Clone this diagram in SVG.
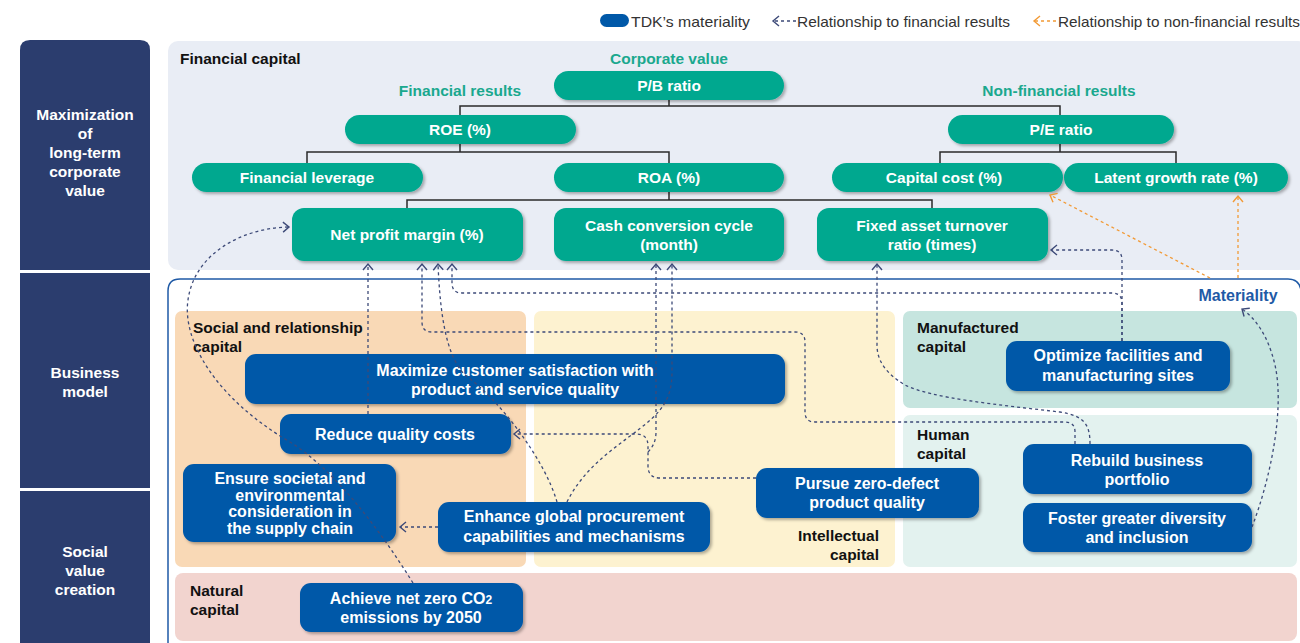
<svg xmlns="http://www.w3.org/2000/svg" width="1300" height="643" viewBox="0 0 1300 643">
<style>
.side{fill:#2b3d6e}
.sidet{font-family:"Liberation Sans",Arial,sans-serif;font-weight:bold;font-size:15.5px;fill:#fff;text-anchor:middle}
.lbl{font-family:"Liberation Sans",Arial,sans-serif;font-weight:bold;font-size:15.5px;fill:#111}
.tlbl{font-family:"Liberation Sans",Arial,sans-serif;font-weight:bold;font-size:15.5px;fill:#1aa88e;text-anchor:middle}
.teal{fill:#00a88f;filter:url(#sh)}
.blue{fill:#0058a8;filter:url(#sh)}
.nt{font-family:"Liberation Sans",Arial,sans-serif;font-weight:bold;font-size:15.5px;fill:#fff;text-anchor:middle}
.bt{font-family:"Liberation Sans",Arial,sans-serif;font-weight:bold;font-size:16px;fill:#fff;text-anchor:middle}
.tree{fill:none;stroke:#2a2a2a;stroke-width:1.5}
.fin{fill:none;stroke:#3d4a78;stroke-width:1.3;stroke-dasharray:3 3}
.nonfin{fill:none;stroke:#f29a36;stroke-width:1.3;stroke-dasharray:3 3}
.leg{font-family:"Liberation Sans",Arial,sans-serif;font-size:15px;fill:#333}
</style>
<defs>
<filter id="sh" x="-10%" y="-20%" width="120%" height="150%">
<feDropShadow dx="2" dy="2" stdDeviation="1.5" flood-color="#000" flood-opacity="0.3"/>
</filter>
<marker id="an" markerUnits="userSpaceOnUse" markerWidth="10" markerHeight="12" refX="7" refY="6" orient="auto">
<path d="M1,1 L7,6 L1,11" fill="none" stroke="#3d4a78" stroke-width="1.4"/>
</marker>
<marker id="ao" markerUnits="userSpaceOnUse" markerWidth="10" markerHeight="12" refX="7" refY="6" orient="auto">
<path d="M1,1 L7,6 L1,11" fill="none" stroke="#f29a36" stroke-width="1.4"/>
</marker>
</defs>
<rect width="1300" height="643" fill="#fff"/>

<!-- legend -->
<g id="legend">
<rect x="600" y="14" width="29" height="13" rx="6.5" fill="#0058a8"/>
<text class="leg" x="631" y="27" textLength="119" lengthAdjust="spacingAndGlyphs">TDK’s materiality</text>
<path class="fin" d="M796,21 H773" marker-end="url(#an)"/>
<text class="leg" x="797" y="27" textLength="213" lengthAdjust="spacingAndGlyphs">Relationship to financial results</text>
<path class="nonfin" d="M1056,21 H1034" marker-end="url(#ao)"/>
<text class="leg" x="1058" y="27" textLength="242" lengthAdjust="spacingAndGlyphs">Relationship to non-financial results</text>
</g>

<!-- left column -->
<g id="side-maximization">
<path class="side" d="M20,50 Q20,40 30,40 H140 Q150,40 150,50 V270 H20 Z"/>
<text class="sidet" x="85" y="120">Maximization</text>
<text class="sidet" x="85" y="139">of</text>
<text class="sidet" x="85" y="158">long-term</text>
<text class="sidet" x="85" y="177">corporate</text>
<text class="sidet" x="85" y="196">value</text>
</g>
<g id="side-business">
<rect class="side" x="20" y="273" width="130" height="215"/>
<text class="sidet" x="85" y="378">Business</text>
<text class="sidet" x="85" y="397">model</text>
</g>
<g id="side-social">
<rect class="side" x="20" y="491" width="130" height="152"/>
<text class="sidet" x="85" y="557">Social</text>
<text class="sidet" x="85" y="576">value</text>
<text class="sidet" x="85" y="595">creation</text>
</g>

<!-- panels -->
<g id="financial-capital">
<rect x="168" y="41" width="1140" height="229" rx="10" fill="#e9edf5"/>
<text class="lbl" x="180" y="64">Financial capital</text>
<text class="tlbl" x="669" y="64">Corporate value</text>
<text class="tlbl" x="460" y="96">Financial results</text>
<text class="tlbl" x="1059" y="96">Non-financial results</text>
</g>
<g id="business-frame">
<path d="M168,643 V291 Q168,279 180,279 H1288 Q1299,279 1301,290" fill="none" stroke="#1f5aa6" stroke-width="1.5"/>
<text x="1238" y="301" font-family="Liberation Sans, Arial, sans-serif" font-weight="bold" font-size="16" fill="#1f5aa6" text-anchor="middle">Materiality</text>
</g>
<g id="social-capital">
<rect x="175" y="311" width="351" height="256" rx="7" fill="#f9d9b6"/>
<text class="lbl" x="193" y="333">Social and relationship</text>
<text class="lbl" x="193" y="352">capital</text>
</g>
<g id="intellectual-capital">
<rect x="534" y="311" width="361" height="256" rx="7" fill="#fdf2d0"/>
<text class="lbl" x="879" y="541" text-anchor="end">Intellectual</text>
<text class="lbl" x="879" y="560" text-anchor="end">capital</text>
</g>
<g id="manufactured-capital">
<rect x="903" y="311" width="394" height="97" rx="7" fill="#c6e5df"/>
<text class="lbl" x="917" y="333">Manufactured</text>
<text class="lbl" x="917" y="352">capital</text>
</g>
<g id="human-capital">
<rect x="903" y="415" width="394" height="152" rx="7" fill="#e3f2ef"/>
<text class="lbl" x="917" y="440">Human</text>
<text class="lbl" x="917" y="459">capital</text>
</g>
<g id="natural-capital">
<rect x="175" y="573" width="1122" height="68" rx="8" fill="#f2d4cf"/>
<text class="lbl" x="190" y="596">Natural</text>
<text class="lbl" x="190" y="615">capital</text>
</g>

<!-- tree lines -->
<g id="tree">
<path class="tree" d="M669,100 V106 M460,115 V106 H1060 V115"/>
<path class="tree" d="M460,144 V152 M307,163 V152 H669 V163"/>
<path class="tree" d="M1060,144 V152 M940,163 V152 H1176 V163"/>
<path class="tree" d="M669,192 V200 M407,208 V200 H932 V208"/>
</g>

<!-- teal nodes -->
<g id="pb-ratio"><rect class="teal" x="554" y="71" width="230" height="29" rx="14.5"/><text class="nt" x="669" y="91">P/B ratio</text></g>
<g id="roe"><rect class="teal" x="345" y="115" width="231" height="29" rx="14.5"/><text class="nt" x="460" y="135">ROE (%)</text></g>
<g id="pe-ratio"><rect class="teal" x="948" y="115" width="226" height="29" rx="14.5"/><text class="nt" x="1061" y="135">P/E ratio</text></g>
<g id="financial-leverage"><rect class="teal" x="192" y="163" width="231" height="29" rx="14.5"/><text class="nt" x="307" y="183">Financial leverage</text></g>
<g id="roa"><rect class="teal" x="554" y="163" width="230" height="29" rx="14.5"/><text class="nt" x="669" y="183">ROA (%)</text></g>
<g id="capital-cost"><rect class="teal" x="832" y="163" width="231" height="29" rx="14.5"/><text class="nt" x="944" y="183">Capital cost (%)</text></g>
<g id="latent-growth"><rect class="teal" x="1064" y="163" width="224" height="29" rx="14.5"/><text class="nt" x="1176" y="183">Latent growth rate (%)</text></g>
<g id="net-profit-margin"><rect class="teal" x="292" y="208" width="231" height="53" rx="12"/><text class="nt" x="407" y="240">Net profit margin (%)</text></g>
<g id="cash-conversion"><rect class="teal" x="554" y="208" width="230" height="53" rx="12"/><text class="nt" x="669" y="231">Cash conversion cycle</text><text class="nt" x="669" y="250">(month)</text></g>
<g id="fixed-asset"><rect class="teal" x="817" y="208" width="231" height="53" rx="12"/><text class="nt" x="932" y="231">Fixed asset turnover</text><text class="nt" x="932" y="250">ratio (times)</text></g>

<!-- blue nodes -->
<g id="maximize-customer"><rect class="blue" x="245" y="354" width="540" height="50" rx="11"/><text class="bt" x="515" y="376">Maximize customer satisfaction with</text><text class="bt" x="515" y="395">product and service quality</text></g>
<g id="reduce-quality"><rect class="blue" x="280" y="414" width="231" height="40" rx="11"/><text class="bt" x="395" y="440">Reduce quality costs</text></g>
<g id="ensure-societal"><rect class="blue" x="183" y="464" width="213" height="78" rx="11"/><text class="bt" x="290" y="484">Ensure societal and</text><text class="bt" x="290" y="501">environmental</text><text class="bt" x="290" y="517">consideration in</text><text class="bt" x="290" y="534">the supply chain</text></g>
<g id="enhance-procurement"><rect class="blue" x="438" y="502" width="272" height="50" rx="11"/><text class="bt" x="574" y="522">Enhance global procurement</text><text class="bt" x="574" y="542">capabilities and mechanisms</text></g>
<g id="zero-defect"><rect class="blue" x="756" y="468" width="223" height="50" rx="11"/><text class="bt" x="867" y="489">Pursue zero-defect</text><text class="bt" x="867" y="508">product quality</text></g>
<g id="optimize-facilities"><rect class="blue" x="1006" y="341" width="224" height="50" rx="11"/><text class="bt" x="1118" y="361">Optimize facilities and</text><text class="bt" x="1118" y="381">manufacturing sites</text></g>
<g id="rebuild-portfolio"><rect class="blue" x="1023" y="444" width="229" height="50" rx="11"/><text class="bt" x="1137" y="466">Rebuild business</text><text class="bt" x="1137" y="485">portfolio</text></g>
<g id="foster-diversity"><rect class="blue" x="1023" y="503" width="229" height="49" rx="11"/><text class="bt" x="1137" y="524">Foster greater diversity</text><text class="bt" x="1137" y="543">and inclusion</text></g>
<g id="net-zero"><rect class="blue" x="300" y="583" width="223" height="49" rx="11"/><text class="bt" x="411" y="604">Achieve net zero CO<tspan font-size="12">2</tspan></text><text class="bt" x="411" y="623">emissions by 2050</text></g>

<!-- connectors -->
<g id="connectors">
<path class="fin" d="M368,414 V264" marker-end="url(#an)"/>
<path class="fin" d="M413,583 C380,530 335,470 290,442 C215,398 182,340 188,300 C194,255 240,228 289,227" marker-end="url(#an)"/>
<path class="fin" d="M1075,444 V432 Q1075,422 1065,422 H815 Q805,422 805,412 V342 Q805,332 795,332 H432 Q422,332 422,322 V264" marker-end="url(#an)"/>
<path class="fin" d="M557,502 C545,460 500,400 465,375 C445,355 440,310 438,264" marker-end="url(#an)"/>
<path class="fin" d="M1122,341 V303 Q1122,293 1112,293 H462 Q452,293 452,283 V264" marker-end="url(#an)"/>
<path class="fin" d="M1122,341 V260 Q1122,250 1112,250 H1051" marker-end="url(#an)"/>
<path class="fin" d="M1090,444 C1090,425 1085,416 1060,412 C1000,405 930,398 905,385 C885,373 877,360 877,345 V264" marker-end="url(#an)"/>
<path class="fin" d="M567,502 C590,455 640,435 660,410 C672,395 672,380 672,370 V264" marker-end="url(#an)"/>
<path class="fin" d="M648,452 Q656,444 656,432 V264" marker-end="url(#an)"/>
<path class="fin" d="M756,478 H660 Q648,478 648,466 V446 Q648,434 636,434 H514" marker-end="url(#an)"/>
<path class="fin" d="M438,527 H400" marker-end="url(#an)"/>
<path class="fin" d="M1252,527 C1270,480 1285,410 1275,365 C1268,335 1255,318 1242,309" marker-end="url(#an)"/>
<path class="nonfin" d="M1238,278 V196" marker-end="url(#ao)"/>
<path class="nonfin" d="M1210,278 L1050,195" marker-end="url(#ao)"/>
</g>
</svg>
